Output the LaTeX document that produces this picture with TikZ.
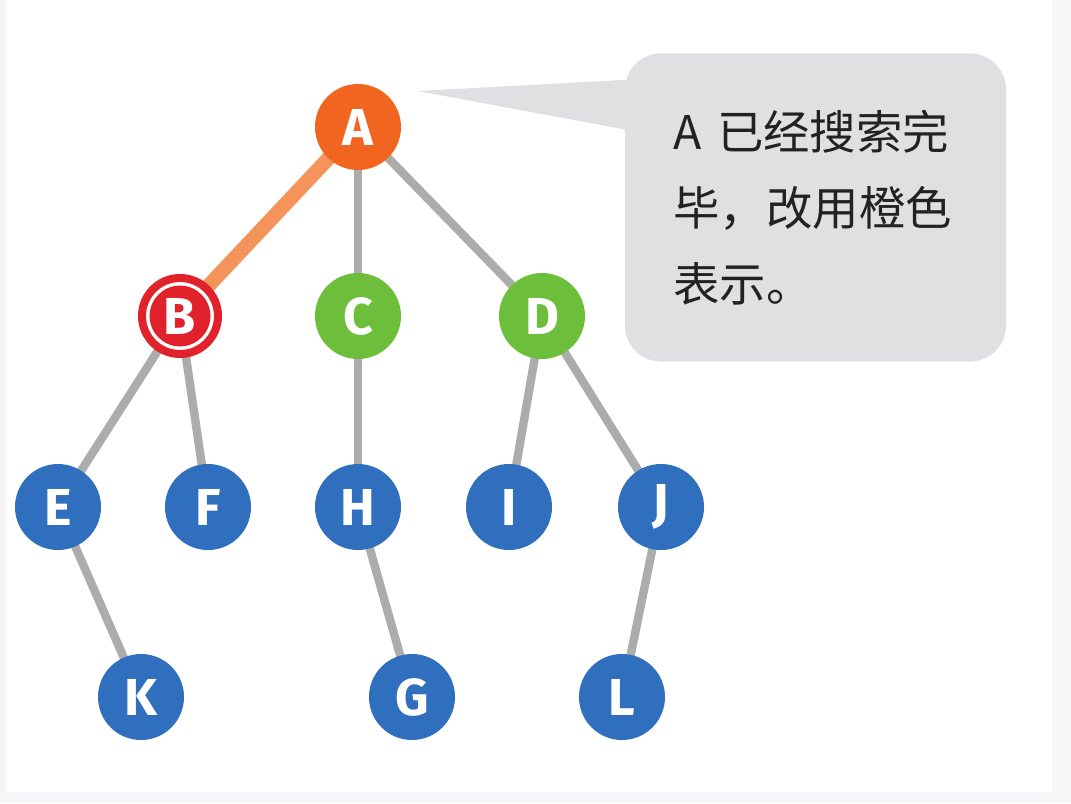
\documentclass[tikz,border=0pt]{standalone}
\usepackage{fontspec}
\setsansfont{Fira Sans}
\newfontfamily\cjk{Noto Sans CJK SC}
\usepackage{xcolor}
\usetikzlibrary{backgrounds}
\definecolor{pagegray}{HTML}{F6F6F8}
\definecolor{donecol}{HTML}{F26520}
\definecolor{donelink}{HTML}{F4935A}
\definecolor{curcol}{HTML}{E2222B}
\definecolor{nextcol}{HTML}{6DBF3B}
\definecolor{waitcol}{HTML}{2F6FBE}
\definecolor{linkgray}{HTML}{ACACAC}
\definecolor{notegray}{HTML}{E0E0E2}
\definecolor{notetext}{HTML}{222222}

\begin{document}
\begin{tikzpicture}[x=0.025cm,y=-0.025cm,
  vtx/.style={circle,minimum size=2.15cm,inner sep=0pt,text=white,
    font=\sffamily\bfseries\fontsize{37}{37}\selectfont},
  link/.style={line width=0.21cm,linkgray},
  note/.style={fill=notegray,rounded corners=0.9cm,inner sep=0pt,
    minimum width=9.525cm,minimum height=7.7cm,text width=7.1cm,align=left,
    text=notetext,font=\cjk\fontsize{33}{54}\selectfont}]
% tree nodes
\node[vtx,fill=donecol] (A) at (358,127) {A};
\node[vtx,minimum size=1.9cm,fill=white,draw=curcol,line width=0.2cm,
  path picture={\fill[curcol] (path picture bounding box.center) circle (0.76cm);}] (B) at (180,316) {B};
\node[vtx,fill=nextcol] (C) at (358,316) {C};
\node[vtx,fill=nextcol] (D) at (542,316) {D};
\node[vtx,fill=waitcol] (E) at (58,507) {E};
\node[vtx,fill=waitcol] (F) at (208,507) {F};
\node[vtx,fill=waitcol] (H) at (358,507) {H};
\node[vtx,fill=waitcol] (I) at (509,507) {I};
\node[vtx,fill=waitcol] (J) at (661,507) {J};
\node[vtx,fill=waitcol] (K) at (141,697) {K};
\node[vtx,fill=waitcol] (G) at (412,697) {G};
\node[vtx,fill=waitcol] (L) at (622,697) {L};
% callout
\coordinate (tip) at (418,91);
\fill[notegray] (tip) -- (660,78) -- (660,136) -- cycle;
\node[note] (msg) at (815.5,207.5) {A 已经搜索完\\毕，改用橙色\\表示。};
\begin{pgfonlayer}{background}
\fill[pagegray] (0,0) rectangle (1071,803);
\fill[white] (6,0) rectangle (1052,792);
\draw[link,donelink,line width=0.36cm] (A.center) -- (B.center);
\foreach \u/\v in {A/C,A/D,B/E,B/F,C/H,D/I,D/J,E/K,H/G,J/L}
  \draw[link] (\u.center) -- (\v.center);
\end{pgfonlayer}
\end{tikzpicture}
\end{document}
